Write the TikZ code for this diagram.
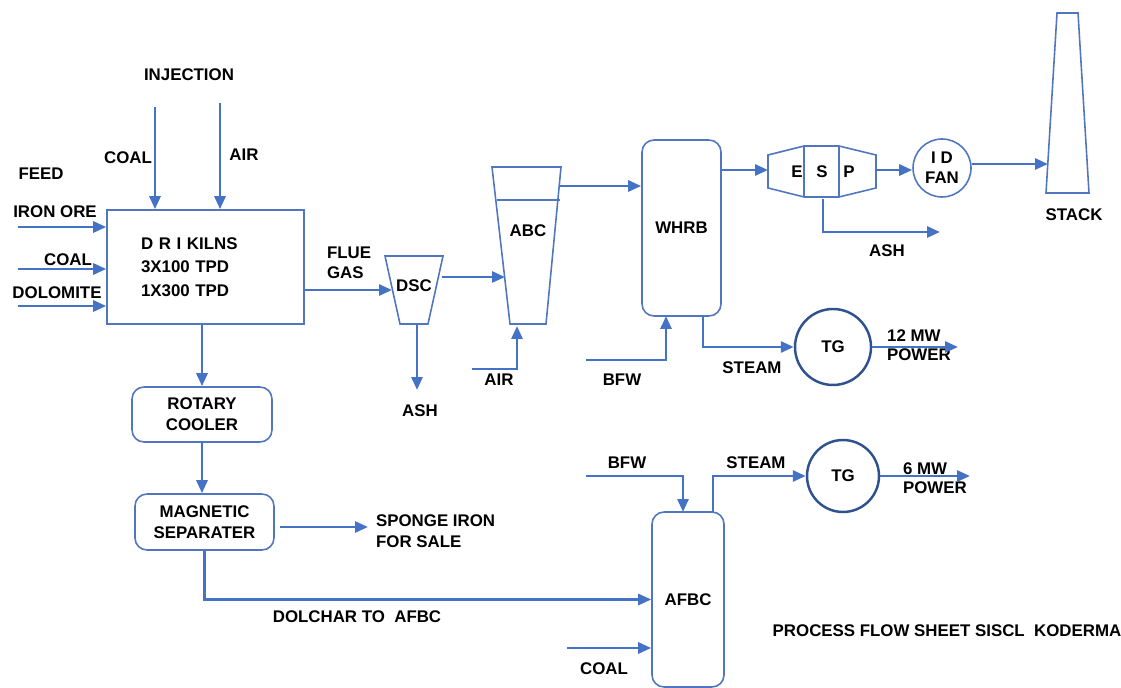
\documentclass[tikz,border=0pt]{standalone}
\usepackage{fontspec}
\setmainfont{Liberation Sans}
\usetikzlibrary{arrows.meta,positioning,calc}
\definecolor{FlowBlue}{RGB}{68,114,196}
\definecolor{UnitBlue}{RGB}{80,118,192}
\definecolor{TGBlue}{RGB}{47,82,143}
\tikzset{
  flow/.style={-{Triangle[length=2.6mm,width=2.2mm]},line width=1.6pt,FlowBlue},
  unitline/.style={draw=UnitBlue,line width=0.9pt,line join=miter},
  unit/.style={rectangle,unitline,font=\bfseries,inner sep=2pt},
  vessel/.style={unit,rounded corners=2.4mm},
  tgen/.style={circle,draw=TGBlue,line width=1.4pt,font=\bfseries,inner sep=0pt},
  lbl/.style={font=\bfseries,inner sep=1pt},
  lbll/.style={lbl,align=left,anchor=west},
}
\begin{document}
\fontsize{9.6}{12}\selectfont
\begin{tikzpicture}[x=0.02cm,y=-0.02cm]
  \useasboundingbox (0,0) rectangle (1121,688);
  % main units
  \node[unit,minimum width=3.94cm,minimum height=2.28cm,text width=2.58cm,align=left,
        font=\bfseries\linespread{1.12}\selectfont] (kiln) at (205.5,267)
        {D R I KILNS\\3X100 TPD\\1X300 TPD};
  \node[vessel,minimum width=2.8cm,minimum height=1.1cm,align=center] (cooler) at (202,414.5) {ROTARY\\COOLER};
  \node[vessel,minimum width=2.78cm,minimum height=1.12cm,align=center] (magsep) at (204.5,522) {MAGNETIC\\SEPARATER};
  \node[vessel,minimum width=1.58cm,minimum height=3.52cm] (whrb) at (681.5,228) {WHRB};
  \node[vessel,minimum width=1.44cm,minimum height=3.5cm] (afbc) at (688,599.5) {AFBC};
  \node[tgen,minimum size=1.52cm] (tgA) at (833,347) {TG};
  \node[tgen,minimum size=1.44cm] (tgB) at (843,476) {TG};
  \node[circle,unitline,minimum size=1.16cm,inner sep=0pt,align=center,
        font=\bfseries\linespread{0.95}\selectfont] (idfan) at (942,168) {I D\\FAN};
  % shaped units
  \draw[unitline] (385,256) -- (443,256) -- (428,324) -- (400,324) -- cycle;
  \node[lbl] (dsc) at (414,286) {DSC};
  \draw[unitline] (492,167) -- (561,167) -- (546,324) -- (510,324) -- cycle;
  \draw[unitline] (497,200) -- (560,200);
  \node[lbl] (abc) at (528,231) {ABC};
  \draw[unitline] (768,155) -- (804,146) -- (839,146) -- (876,155) -- (876,188)
        -- (839,197) -- (804,197) -- (768,188) -- cycle;
  \draw[unitline] (804,146) -- (804,197) (839,146) -- (839,197);
  \node[lbl] (espE) at (797,172) {E};
  \node[lbl] (espS) at (822,172) {S};
  \node[lbl] (espP) at (849,172) {P};
  \draw[unitline] (1057,13) -- (1078,13) -- (1089,193) -- (1046,193) -- cycle;
  \node[lbl] (stack) at (1074,215) {STACK};
  % labels
  \node[lbl] (inj) at (189,75) {INJECTION};
  \node[lbl] (injcoalt) at (128,158) {COAL};
  \node[lbl] (injairt) at (244,155) {AIR};
  \node[lbl] (feed) at (41,174) {FEED};
  \node[lbl] (oret) at (55,212) {IRON ORE};
  \node[lbl] (coalt) at (68,260) {COAL};
  \node[lbl] (dolot) at (57,293) {DOLOMITE};
  \node[lbll,font=\bfseries\linespread{0.95}\selectfont] (fluet) at (325,263) {FLUE\\GAS};
  \node[lbl] (ashA) at (420,411) {ASH};
  \node[lbl] (airA) at (499,380) {AIR};
  \node[lbl] (bfwA) at (622,380) {BFW};
  \node[lbl] (steamA) at (752,368) {STEAM};
  \node[lbll,font=\bfseries\linespread{0.9}\selectfont] (powA) at (885,345) {12 MW\\POWER};
  \node[lbl] (ashB) at (887,251) {ASH};
  \node[lbll] (sponge) at (374,531) {SPONGE IRON\\FOR SALE};
  \node[lbl] (dolchar) at (357,617) {DOLCHAR TO\ \ AFBC};
  \node[lbl] (bfwB) at (627,463) {BFW};
  \node[lbl] (steamB) at (756,463) {STEAM};
  \node[lbll,font=\bfseries\linespread{0.9}\selectfont] (powB) at (901,478) {6 MW\\POWER};
  \node[lbl] (coalB) at (604,669) {COAL};
  \node[lbl] (title) at (947,631) {PROCESS FLOW SHEET SISCL\ \ KODERMA};
  % free ends and ports
  \coordinate (injcoal) at (155,107);
  \coordinate (injair) at (220,103);
  \coordinate (oreA) at (18,227);
  \coordinate (coalA) at (18,269);
  \coordinate (doloA) at (18,306);
  \coordinate (dscin) at (392,290);
  \coordinate (dscout) at (442,277);
  \coordinate (abcin) at (505,277);
  \coordinate (dscash) at (417,324);
  \coordinate (dscashE) at (417,390);
  \coordinate (abcairA) at (472,369);
  \coordinate (abcbot) at (517,326);
  \coordinate (abcout) at (559,186);
  \coordinate (bfwAin) at (586,360);
  \coordinate (whrbbfw) at (666,316);
  \coordinate (whrbstm) at (703,316);
  \coordinate (powAend) at (958,347);
  \coordinate (espin) at (768,170);
  \coordinate (espout) at (876,170);
  \coordinate (espash) at (823,199);
  \coordinate (espashE) at (940,232);
  \coordinate (stackin) at (1048,164);
  \coordinate (spongeE) at (368,527);
  \coordinate (coalBin) at (567,648);
  \coordinate (bfwBin) at (586,476);
  \coordinate (afbcbfw) at (683,512);
  \coordinate (afbcstm) at (713,512);
  \coordinate (powBend) at (970,476);
  % flows into kiln
  \draw[flow] (injcoal) -- (injcoal |- kiln.north);
  \draw[flow] (injair) -- (injair |- kiln.north);
  \draw[flow] (oreA) -- (oreA -| kiln.west);
  \draw[flow] (coalA) -- (coalA -| kiln.west);
  \draw[flow] (doloA) -- (doloA -| kiln.west);
  % gas train
  \draw[flow] (dscin -| kiln.east) -- (dscin);
  \draw[flow] (dscout) -- (abcin);
  \draw[flow] (dscash) -- (dscashE);
  \draw[flow] (abcairA) -| (abcbot);
  \draw[flow] (abcout) -- (abcout -| whrb.west);
  \draw[flow] (bfwAin) -| (whrbbfw);
  \draw[flow] (whrbstm) |- (tgA.west);
  \draw[flow] (tgA.east) -- (powAend);
  \draw[flow] (espin -| whrb.east) -- (espin);
  \draw[flow] (espash) |- (espashE);
  \draw[flow] (espout) -- (espout -| idfan.west);
  \draw[flow] (idfan.east |- stackin) -- (stackin);
  % solids
  \draw[flow] (cooler.north |- kiln.south) -- (cooler.north);
  \draw[flow] (cooler.south) -- (cooler.south |- magsep.north);
  \draw[flow] ([xshift=3pt]magsep.east |- spongeE) -- (spongeE);
  \draw[flow] (magsep.south) |- (afbc.west);
  % AFBC
  \draw[flow] (coalBin) -- (coalBin -| afbc.west);
  \draw[flow] (bfwBin) -| (afbcbfw);
  \draw[flow] (afbcstm) |- (tgB.west);
  \draw[flow] (tgB.east) -- (powBend);
\end{tikzpicture}
\end{document}
